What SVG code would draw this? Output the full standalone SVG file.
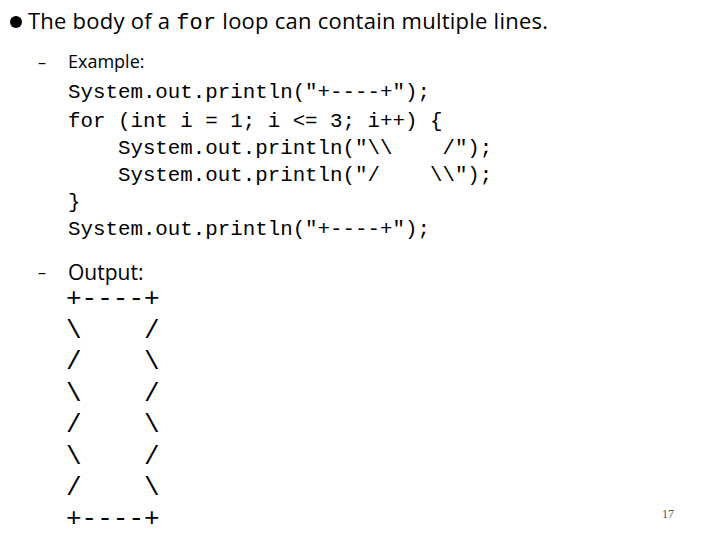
<svg xmlns="http://www.w3.org/2000/svg" width="720" height="540" viewBox="0 0 720 540">
<style>
.s{font-family:"Open Sans","Liberation Sans",sans-serif;fill:#000}
.m{font-family:"Liberation Mono","Courier New",monospace;fill:#000;white-space:pre}
.c{font-size:20.8px}
.o{font-size:26px}
</style>
<rect width="720" height="540" fill="#fff"/>
<circle cx="16" cy="22" r="6" fill="#000"/>
<text class="s" x="28" y="29" font-size="22" textLength="520" lengthAdjust="spacing">The body of a <tspan class="m" font-size="22">for</tspan> loop can contain multiple lines.</text>
<text class="s" x="38" y="68" font-size="16">–</text>
<text class="s" x="68" y="68" font-size="18">Example:</text>
<text class="m c" x="68" y="98" xml:space="preserve">System.out.println("+----+");</text>
<text class="m c" x="68" y="127" xml:space="preserve">for (int i = 1; i &lt;= 3; i++) {</text>
<text class="m c" x="68" y="154" xml:space="preserve">    System.out.println("\\    /");</text>
<text class="m c" x="68" y="181" xml:space="preserve">    System.out.println("/    \\");</text>
<text class="m c" x="68" y="208" xml:space="preserve">}</text>
<text class="m c" x="68" y="235" xml:space="preserve">System.out.println("+----+");</text>
<text class="s" x="38" y="278" font-size="16">–</text>
<text class="s" x="68" y="280" font-size="21">Output:</text>
<text class="m o" x="66" y="306" xml:space="preserve">+----+</text>
<text class="m o" x="66" y="338" xml:space="preserve">\    /</text>
<text class="m o" x="66" y="369" xml:space="preserve">/    \</text>
<text class="m o" x="66" y="401" xml:space="preserve">\    /</text>
<text class="m o" x="66" y="432" xml:space="preserve">/    \</text>
<text class="m o" x="66" y="464" xml:space="preserve">\    /</text>
<text class="m o" x="66" y="495" xml:space="preserve">/    \</text>
<text class="m o" x="66" y="526" xml:space="preserve">+----+</text>
<text x="662" y="518" font-family="Liberation Serif,serif" font-size="12" fill="#555">17</text>
</svg>
